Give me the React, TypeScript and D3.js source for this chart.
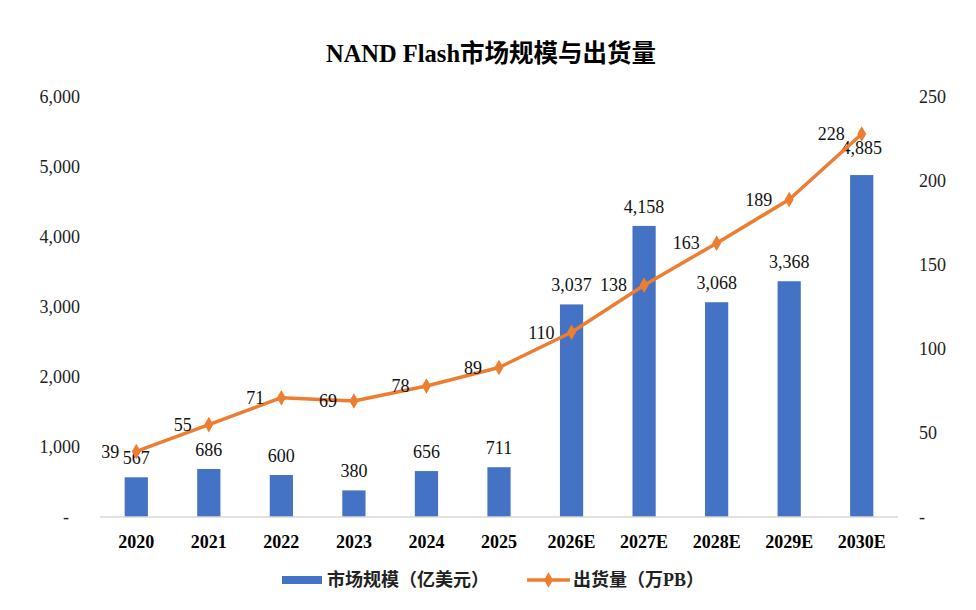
import { useEffect, useRef } from "react";
import * as d3 from "d3";

const categories = ["2020", "2021", "2022", "2023", "2024", "2025", "2026E", "2027E", "2028E", "2029E", "2030E"];
const marketSize = [567, 686, 600, 380, 656, 711, 3037, 4158, 3068, 3368, 4885];
const shipments = [39, 55, 71, 69, 78, 89, 110, 138, 163, 189, 228];
const leftTicks = [0, 1000, 2000, 3000, 4000, 5000, 6000];
const rightTicks = [0, 50, 100, 150, 200, 250];

const SERIF = "'Liberation Serif', 'Times New Roman', 'Noto Sans CJK SC', serif";

export default function App() {
  const ref = useRef<SVGSVGElement | null>(null);

  useEffect(() => {
    if (!ref.current) return;
    const svg = d3.select(ref.current);
    svg.selectAll("*").remove();

    const width = 976;
    const height = 610;
    const margin = { top: 97, right: 78, bottom: 93, left: 100 };
    const plotW = width - margin.left - margin.right;
    const plotH = height - margin.top - margin.bottom;

    svg.append("rect").attr("width", width).attr("height", height).attr("fill", "#ffffff");

    // Title
    svg.append("text")
      .attr("x", 491)
      .attr("y", 62)
      .attr("text-anchor", "middle")
      .style("font-family", SERIF)
      .style("font-size", "24.5px")
      .style("font-weight", "700")
      .attr("fill", "#000")
      .text("NAND Flash市场规模与出货量");

    const g = svg.append("g").attr("transform", `translate(${margin.left},${margin.top})`);

    const x = d3.scaleBand().domain(categories).range([0, plotW]).paddingInner(0.68).paddingOuter(0.34);
    const yL = d3.scaleLinear().domain([0, 6000]).range([plotH, 0]);
    const yR = d3.scaleLinear().domain([0, 250]).range([plotH, 0]);
    const cx = (c: string) => (x(c) || 0) + x.bandwidth() / 2;

    // Left axis labels
    const fmt = d3.format(",");
    g.selectAll(".lt")
      .data(leftTicks)
      .enter()
      .append("text")
      .attr("x", (d) => (d === 0 ? -31 : -20))
      .attr("y", (d) => yL(d))
      .attr("dy", "0.35em")
      .attr("text-anchor", "end")
      .style("font-family", SERIF)
      .style("font-size", "18px")
      .attr("fill", "#222")
      .text((d) => (d === 0 ? "-" : fmt(d)));

    // Right axis labels
    g.selectAll(".rt")
      .data(rightTicks)
      .enter()
      .append("text")
      .attr("x", plotW + 21)
      .attr("y", (d) => yR(d))
      .attr("dy", "0.35em")
      .attr("text-anchor", "start")
      .style("font-family", SERIF)
      .style("font-size", "18px")
      .attr("fill", "#222")
      .text((d) => (d === 0 ? "-" : String(d)));

    // Bars
    g.selectAll(".bar")
      .data(marketSize)
      .enter()
      .append("rect")
      .attr("x", (_, i) => x(categories[i]) || 0)
      .attr("y", (d) => yL(d))
      .attr("width", x.bandwidth())
      .attr("height", (d) => plotH - yL(d))
      .attr("fill", "#4472C4");

    // X axis baseline
    g.append("line")
      .attr("x1", 0)
      .attr("x2", plotW)
      .attr("y1", plotH)
      .attr("y2", plotH)
      .attr("stroke", "#d9d9d9")
      .attr("stroke-width", 1.5);

    // X labels
    g.selectAll(".xl")
      .data(categories)
      .enter()
      .append("text")
      .attr("x", (d) => cx(d))
      .attr("y", plotH + 25)
      .attr("dy", "0.35em")
      .attr("text-anchor", "middle")
      .style("font-family", SERIF)
      .style("font-size", "18px")
      .style("font-weight", "700")
      .attr("fill", "#000")
      .text((d) => d);

    // Bar value labels
    const barLabelShift = [0, 0, 0, 0, 0, 0, 0, 0, 0, 0, -8];
    g.selectAll(".bl")
      .data(marketSize)
      .enter()
      .append("text")
      .attr("x", (_, i) => cx(categories[i]))
      .attr("y", (d, i) => yL(d) - 13 + barLabelShift[i])
      .attr("text-anchor", "middle")
      .style("font-family", SERIF)
      .style("font-size", "18px")
      .attr("fill", "#111")
      .text((d) => fmt(d));

    // Line
    const line = d3.line<number>()
      .x((_, i) => cx(categories[i]))
      .y((d) => yR(d));
    g.append("path")
      .datum(shipments)
      .attr("d", line)
      .attr("fill", "none")
      .attr("stroke", "#ED7D31")
      .attr("stroke-width", 3.5)
      .attr("stroke-linejoin", "round");

    const diamond = d3.symbol().type(d3.symbolDiamond).size(70);
    g.selectAll(".pt")
      .data(shipments)
      .enter()
      .append("path")
      .attr("d", diamond)
      .attr("transform", (d, i) => `translate(${cx(categories[i])},${yR(d)})`)
      .attr("fill", "#ED7D31");

    // Line value labels (left of point)
    g.selectAll(".ll")
      .data(shipments)
      .enter()
      .append("text")
      .attr("x", (_, i) => cx(categories[i]) - 17)
      .attr("y", (d) => yR(d))
      .attr("dy", "0.35em")
      .attr("text-anchor", "end")
      .style("font-family", SERIF)
      .style("font-size", "18px")
      .attr("fill", "#111")
      .text((d) => String(d));

    // Legend
    const lg = svg.append("g").attr("transform", "translate(0,580)");
    lg.append("rect").attr("x", 282).attr("y", -4).attr("width", 40).attr("height", 8).attr("fill", "#4472C4");
    lg.append("text")
      .attr("x", 327)
      .attr("y", 0)
      .attr("dy", "0.35em")
      .style("font-family", SERIF)
      .style("font-size", "18px")
      .style("font-weight", "700")
      .attr("fill", "#222")
      .text("市场规模（亿美元）");
    lg.append("line")
      .attr("x1", 527)
      .attr("x2", 570)
      .attr("y1", 0)
      .attr("y2", 0)
      .attr("stroke", "#ED7D31")
      .attr("stroke-width", 3.5);
    lg.append("path")
      .attr("d", diamond)
      .attr("transform", "translate(548.5,0)")
      .attr("fill", "#ED7D31");
    lg.append("text")
      .attr("x", 573)
      .attr("y", 0)
      .attr("dy", "0.35em")
      .style("font-family", SERIF)
      .style("font-size", "18px")
      .style("font-weight", "700")
      .attr("fill", "#222")
      .text("出货量（万PB）");
  }, []);

  return (
    <svg
      ref={ref}
      width={976}
      height={610}
      style={{ position: "fixed", left: 0, top: 0, display: "block" }}
    />
  );
}
